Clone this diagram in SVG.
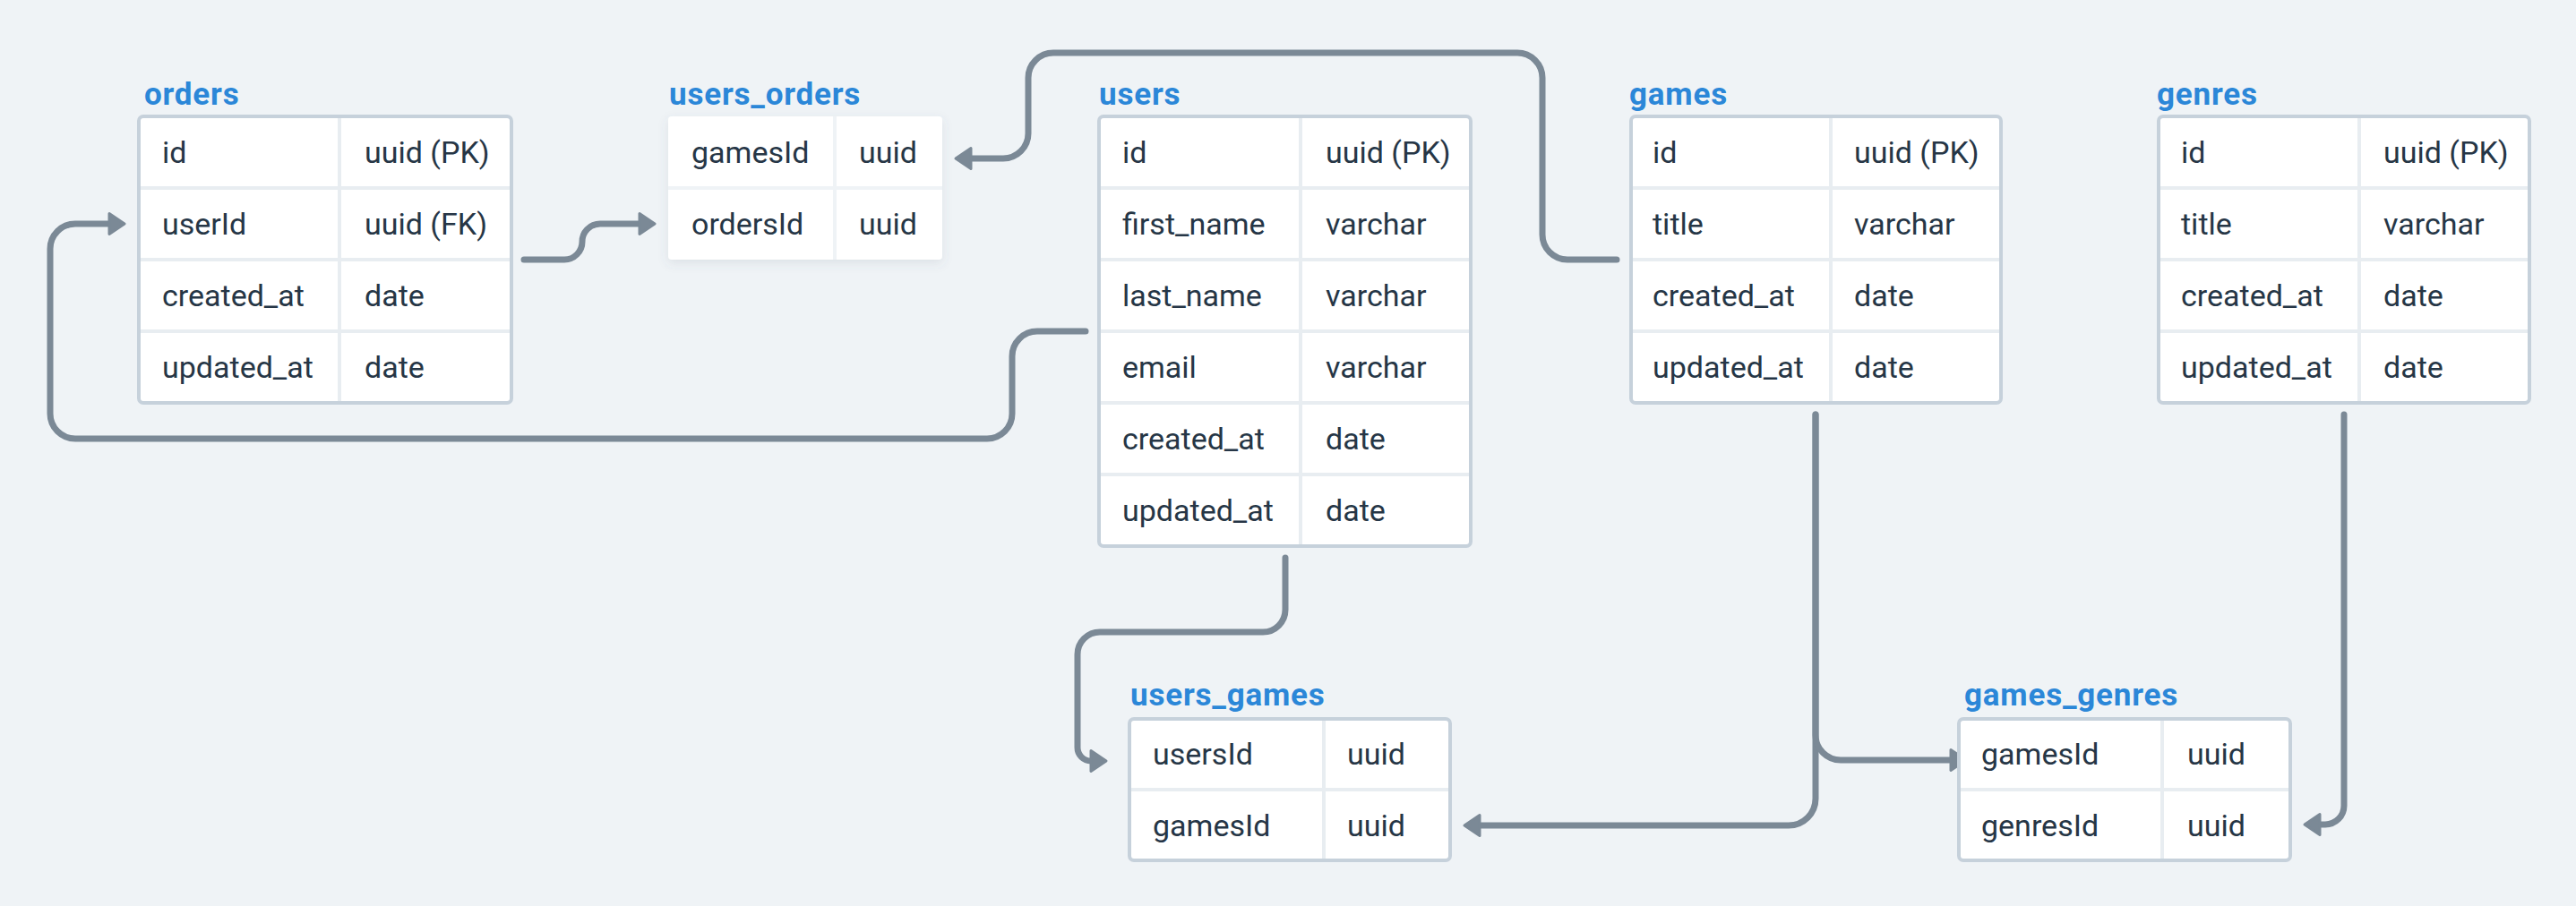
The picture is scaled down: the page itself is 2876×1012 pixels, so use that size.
<svg xmlns="http://www.w3.org/2000/svg" width="2876" height="1012" viewBox="0 0 2876 1012">
<style>
  .title { font-family: Roboto, "Liberation Sans", sans-serif; font-weight: 700; font-size: 35px; letter-spacing: 0.8px; fill: #2b87d8; }
  .cell { font-family: Roboto, "Liberation Sans", sans-serif; font-size: 34px; fill: #263646; }
  .frame { fill: #ffffff; stroke: #c6d1db; stroke-width: 4; }
  .sep { stroke: #e8edf1; stroke-width: 4; }
  .plain { fill: #ffffff; }
  .conn { fill: none; stroke: #7b8996; stroke-width: 7; stroke-linecap: round; stroke-linejoin: round; marker-end: url(#ah); }
</style>
<defs>
  <marker id="ah" markerUnits="userSpaceOnUse" viewBox="-4 -16 26 32" refX="0" refY="0" markerWidth="26" markerHeight="32" orient="auto" overflow="visible">
    <path d="M0,-11.5 L17,0 L0,11.5 Z" fill="#7b8996" stroke="#7b8996" stroke-width="3" stroke-linejoin="round"/>
  </marker>
  <filter id="shadow" x="-10%" y="-10%" width="120%" height="130%">
    <feDropShadow dx="0" dy="4" stdDeviation="6" flood-color="#5a6b7c" flood-opacity="0.12"/>
  </filter>
</defs>
<rect x="0" y="0" width="2876" height="1012" fill="#eff3f6"/>

<g id="connectors">
  <path class="conn" d="M585,290 H630 A20,20 0 0 0 650,270 A20,20 0 0 1 670,250 H714"/>
  <path class="conn" d="M1212,370 H1158 A28,28 0 0 0 1130,398 V462 A28,28 0 0 1 1102,490 H84 A28,28 0 0 1 56,462 V278 A28,28 0 0 1 84,250 H122"/>
  <path class="conn" d="M1805,290 H1750 A28,28 0 0 1 1722,262 V87 A28,28 0 0 0 1694,59 H1176 A28,28 0 0 0 1148,87 V149 A28,28 0 0 1 1120,177 H1084"/>
  <path class="conn" d="M1435,623 V681 A25,25 0 0 1 1410,706 H1228 A25,25 0 0 0 1203,731 V835 A15,15 0 0 0 1218,850"/>
  <path class="conn" d="M2027,463 V892 A30,30 0 0 1 1997,922 H1652"/>
  <path class="conn" d="M2027,463 V821 A28,28 0 0 0 2055,849 H2178"/>
  <path class="conn" d="M2617,463 V900 A21,21 0 0 1 2596,921 H2590"/>
</g>

<g id="orders">
  <text class="title" x="161" y="117">orders</text>
  <rect class="frame" x="155" y="130" width="416" height="320" rx="5"/>
  <line class="sep" x1="157" y1="210" x2="569" y2="210"/>
  <line class="sep" x1="157" y1="290" x2="569" y2="290"/>
  <line class="sep" x1="157" y1="370" x2="569" y2="370"/>
  <line class="sep" x1="379" y1="132" x2="379" y2="448"/>
  <text class="cell" x="181" y="182">id</text><text class="cell" x="407" y="182">uuid (PK)</text>
  <text class="cell" x="181" y="262">userId</text><text class="cell" x="407" y="262">uuid (FK)</text>
  <text class="cell" x="181" y="342">created_at</text><text class="cell" x="407" y="342">date</text>
  <text class="cell" x="181" y="422">updated_at</text><text class="cell" x="407" y="422">date</text>
</g>

<g id="users_orders">
  <text class="title" x="747" y="117">users_orders</text>
  <g filter="url(#shadow)">
    <rect class="plain" x="746" y="130" width="306" height="160" rx="4"/>
  </g>
  <rect x="930" y="130" width="4" height="160" fill="#eff3f6"/>
  <rect x="746" y="208" width="306" height="4" fill="#eff3f6"/>
  <text class="cell" x="772" y="182">gamesId</text><text class="cell" x="959" y="182">uuid</text>
  <text class="cell" x="772" y="262">ordersId</text><text class="cell" x="959" y="262">uuid</text>
</g>

<g id="users">
  <text class="title" x="1227" y="117">users</text>
  <rect class="frame" x="1227" y="130" width="415" height="480" rx="5"/>
  <line class="sep" x1="1229" y1="210" x2="1640" y2="210"/>
  <line class="sep" x1="1229" y1="290" x2="1640" y2="290"/>
  <line class="sep" x1="1229" y1="370" x2="1640" y2="370"/>
  <line class="sep" x1="1229" y1="450" x2="1640" y2="450"/>
  <line class="sep" x1="1229" y1="530" x2="1640" y2="530"/>
  <line class="sep" x1="1452" y1="132" x2="1452" y2="608"/>
  <text class="cell" x="1253" y="182">id</text><text class="cell" x="1480" y="182">uuid (PK)</text>
  <text class="cell" x="1253" y="262">first_name</text><text class="cell" x="1480" y="262">varchar</text>
  <text class="cell" x="1253" y="342">last_name</text><text class="cell" x="1480" y="342">varchar</text>
  <text class="cell" x="1253" y="422">email</text><text class="cell" x="1480" y="422">varchar</text>
  <text class="cell" x="1253" y="502">created_at</text><text class="cell" x="1480" y="502">date</text>
  <text class="cell" x="1253" y="582">updated_at</text><text class="cell" x="1480" y="582">date</text>
</g>

<g id="games">
  <text class="title" x="1819" y="117">games</text>
  <rect class="frame" x="1821" y="130" width="413" height="320" rx="5"/>
  <line class="sep" x1="1823" y1="210" x2="2232" y2="210"/>
  <line class="sep" x1="1823" y1="290" x2="2232" y2="290"/>
  <line class="sep" x1="1823" y1="370" x2="2232" y2="370"/>
  <line class="sep" x1="2044" y1="132" x2="2044" y2="448"/>
  <text class="cell" x="1845" y="182">id</text><text class="cell" x="2070" y="182">uuid (PK)</text>
  <text class="cell" x="1845" y="262">title</text><text class="cell" x="2070" y="262">varchar</text>
  <text class="cell" x="1845" y="342">created_at</text><text class="cell" x="2070" y="342">date</text>
  <text class="cell" x="1845" y="422">updated_at</text><text class="cell" x="2070" y="422">date</text>
</g>

<g id="genres">
  <text class="title" x="2408" y="117">genres</text>
  <rect class="frame" x="2410" y="130" width="414" height="320" rx="5"/>
  <line class="sep" x1="2412" y1="210" x2="2822" y2="210"/>
  <line class="sep" x1="2412" y1="290" x2="2822" y2="290"/>
  <line class="sep" x1="2412" y1="370" x2="2822" y2="370"/>
  <line class="sep" x1="2634" y1="132" x2="2634" y2="448"/>
  <text class="cell" x="2435" y="182">id</text><text class="cell" x="2661" y="182">uuid (PK)</text>
  <text class="cell" x="2435" y="262">title</text><text class="cell" x="2661" y="262">varchar</text>
  <text class="cell" x="2435" y="342">created_at</text><text class="cell" x="2661" y="342">date</text>
  <text class="cell" x="2435" y="422">updated_at</text><text class="cell" x="2661" y="422">date</text>
</g>

<g id="users_games">
  <text class="title" x="1262" y="788">users_games</text>
  <rect class="frame" x="1261" y="803" width="358" height="158" rx="5"/>
  <line class="sep" x1="1263" y1="882" x2="1617" y2="882"/>
  <line class="sep" x1="1478" y1="805" x2="1478" y2="959"/>
  <text class="cell" x="1287" y="854">usersId</text><text class="cell" x="1504" y="854">uuid</text>
  <text class="cell" x="1287" y="934">gamesId</text><text class="cell" x="1504" y="934">uuid</text>
</g>

<g id="games_genres">
  <text class="title" x="2193" y="788">games_genres</text>
  <rect class="frame" x="2187" y="803" width="370" height="158" rx="5"/>
  <line class="sep" x1="2189" y1="882" x2="2555" y2="882"/>
  <line class="sep" x1="2414" y1="805" x2="2414" y2="959"/>
  <text class="cell" x="2212" y="854">gamesId</text><text class="cell" x="2442" y="854">uuid</text>
  <text class="cell" x="2212" y="934">genresId</text><text class="cell" x="2442" y="934">uuid</text>
</g>
</svg>
